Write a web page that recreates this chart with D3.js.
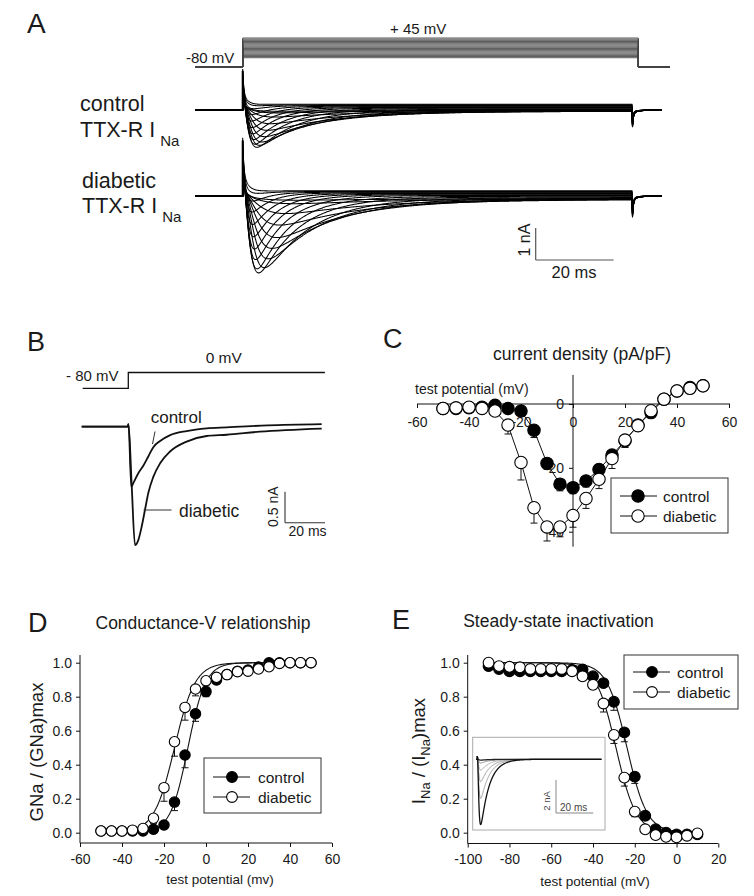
<!DOCTYPE html>
<html><head><meta charset="utf-8">
<script src="https://cdn.jsdelivr.net/npm/d3@7/dist/d3.min.js"></script>
<style>
html,body{margin:0;padding:0;background:#fff;}
svg text{font-family:"Liberation Sans",Arial,Helvetica,sans-serif;fill:#1a1a1a;}
</style></head>
<body><svg id="fig"></svg>
<script>
// ---------------- DATA ----------------
// Panel A: step protocol and current families (peak nA, time to peak ms, decay tau ms, steady offset nA)
const stepVoltages = [-40,-35,-30,-25,-20,-15,-10,-5,0,5,10,15,20,25,30,35,40,45];
const ctrlPeak = [0.03,0.08,0.2,0.4,0.6,0.8,0.98,1.1,1.19,1.12,1.0,0.85,0.68,0.5,0.32,0.15,0.05,0.0];
const ctrlTp   = [10,9,8,7,6.2,5.5,4.8,4.2,3.5,3.0,2.7,2.4,2.2,2.0,1.8,1.6,1.5,1.4];
const ctrlTau  = [26,25,22,20,18,16,14,12,10,8.5,7.5,6.5,5.8,5.2,4.6,4.2,4.0,4.0];
const ctrlSS   = [-0.01,-0.01,-0.02,-0.03,-0.04,-0.04,-0.03,-0.02,0.0,0.02,0.04,0.06,0.08,0.1,0.12,0.14,0.16,0.18];
const diabPeak = [0.05,0.15,0.45,0.8,1.2,1.55,1.9,2.2,2.4,2.3,2.05,1.75,1.4,1.05,0.7,0.38,0.12,0.0];
const diabTp   = [14,13,11,9.5,8.8,7.5,6.5,5.5,4.0,3.6,3.2,2.9,2.6,2.3,2.0,1.8,1.6,1.5];
const diabTau  = [26,25,22,20,18,16,14,12,10,8.5,7.5,6.5,5.8,5.2,4.6,4.2,4.0,4.0];
const diabSS   = [-0.08,-0.09,-0.1,-0.11,-0.1,-0.09,-0.07,-0.05,-0.03,-0.01,0.02,0.04,0.06,0.08,0.1,0.12,0.14,0.16];

// Panel B: single traces at 0 mV (time ms, current nA)
const bTimeCtrl = [-23,0,0.4,1.8,2.8,5.3,7.8,10.3,12.8,16.2,21,29.5,39.5,49.5,70,97];
const bCurCtrl  = [0,0,0.04,-0.97,-0.91,-0.75,-0.63,-0.48,-0.33,-0.23,-0.14,-0.07,-0.026,-0.01,0.02,0.04];
const bTimeDiab = [-23,0,0.4,2.0,3.65,5.3,7,8.65,10.3,12.8,16.2,21.2,29.5,39.5,49.5,66,97];
const bCurDiab  = [0,0,0.04,-0.95,-1.91,-1.83,-1.61,-1.34,-1.07,-0.81,-0.59,-0.40,-0.24,-0.15,-0.13,-0.08,-0.03];

// Panel C: current density (pA/pF)
const ivVoltage = [-50,-45,-40,-35,-30,-25,-20,-15,-10,-5,0,5,10,15,20,25,30,35,40,45,50];
const ivControl = [-1.4,-1.4,-1.2,-1.0,-0.4,-1.4,-2.2,-8.2,-18.6,-25.1,-26.2,-24.1,-20.5,-16.0,-11.5,-6.6,-2.7,1.5,4.1,5.2,5.7];
const ivControlErr = [0.3,0.3,0.3,0.3,0.3,0.4,0.6,2.3,1.8,2.1,1.9,1.9,1.8,1.8,2.0,1.2,0.8,0.5,0.4,0.3,0.3];
const ivDiabetic = [-1.4,-1.2,-1.0,-1.4,-2.2,-6.6,-18.3,-32.5,-38.5,-38.5,-34.9,-29.6,-23.6,-17.1,-11.3,-6.8,-2.1,1.5,4.1,4.9,5.7];
const ivDiabeticErr = [0.3,0.3,0.3,0.4,0.6,2.8,5.5,4.8,4.4,3.1,3.7,3.1,2.9,3.1,2.3,1.5,0.8,0.5,0.4,0.3,0.3];

// Panel D: conductance-voltage
const gvVoltage = [-50,-45,-40,-35,-30,-25,-20,-15,-10,-5,0,5,10,15,20,25,30,35,40,45,50];
const gvControl = [0.01,0.01,0.01,0.01,0.01,0.02,0.045,0.18,0.457,0.70,0.83,0.898,0.93,0.95,0.957,0.975,1.0,1.0,1.0,1.0,1.0];
const gvControlErr = [0.01,0.01,0.01,0.01,0.01,0.02,0.02,0.05,0.075,0.045,0.03,0.02,0.01,0.01,0.01,0.01,0.01,0.01,0.01,0.01,0.01];
const gvDiabetic = [0.01,0.01,0.01,0.015,0.025,0.085,0.265,0.535,0.737,0.845,0.894,0.914,0.93,0.947,0.95,0.963,0.976,0.996,1.0,1.0,1.0];
const gvDiabeticErr = [0.01,0.01,0.01,0.01,0.01,0.03,0.08,0.085,0.075,0.04,0.03,0.02,0.01,0.01,0.01,0.01,0.01,0.01,0.01,0.01,0.01];
const gvFitVHalf = [-8.6,-15.0];   // control, diabetic
const gvFitSlope = [4.2,4.9];

// Panel E: steady-state inactivation
const ssiVoltage = [-90,-85,-80,-75,-70,-65,-60,-55,-50,-45,-40,-35,-30,-25,-20,-15,-10,-5,0,5,10];
const ssiControl = [0.98,0.963,0.95,0.95,0.95,0.95,0.95,0.95,0.957,0.96,0.92,0.88,0.77,0.59,0.33,0.10,0.02,0.0,-0.01,-0.01,-0.01];
const ssiControlErr = [0.01,0.01,0.01,0.01,0.01,0.01,0.01,0.01,0.01,0.01,0.01,0.02,0.05,0.055,0.04,0.02,0.01,0.01,0.01,0.01,0.01];
const ssiDiabetic = [1.0,0.98,0.976,0.973,0.963,0.963,0.963,0.963,0.95,0.92,0.87,0.76,0.575,0.324,0.124,0.02,-0.014,-0.024,-0.027,-0.018,-0.004];
const ssiDiabeticErr = [0.01,0.01,0.01,0.01,0.01,0.01,0.01,0.01,0.01,0.01,0.02,0.05,0.05,0.05,0.03,0.01,0.01,0.01,0.01,0.01,0.01];
const ssiFitVHalf = [-23.7,-29.0];
const ssiFitSlope = [4.8,4.8];
// inset of E: peak currents (nA) of prepulse family
const insetPeak = [0.05,0.23,0.66,1.37,2.4,4.0];
const insetColor = ["#222","#888","#aaa","#999","#999","#111"];

// ---------------- DRAWING ----------------
const svg = d3.select("#fig").attr("width",754).attr("height",896);
svg.append("rect").attr("width",754).attr("height",896).attr("fill","#fff");

function T(x,y,s,size,opt={}){
  const t = svg.append("text").attr("x",x).attr("y",y).attr("font-size",size).text(s);
  if(opt.anchor) t.attr("text-anchor",opt.anchor);
  if(opt.rot) t.attr("transform",`rotate(-90,${x},${y})`);
  if(opt.fill) t.style("fill",opt.fill);
  return t;
}
function L(x1,y1,x2,y2,col="#111",w=1){
  svg.append("line").attr("x1",x1).attr("y1",y1).attr("x2",x2).attr("y2",y2).attr("stroke",col).attr("stroke-width",w);
}
function naShape(tp,tau){
  let tm = tp/3;
  for(let i=0;i<50;i++) tm = tp/Math.log(1+3*tau/tm);
  const f = t => t<=0 ? 0 : Math.pow(1-Math.exp(-t/tm),3)*Math.exp(-t/tau);
  const n = f(tp);
  return t => f(t)/n;
}

// Panel letters
T(27,33,"A",28); T(27,351,"B",27); T(383,348,"C",27); T(28,632,"D",27); T(392,629,"E",27);

// ---------- Panel A ----------
const xA = d3.scaleLinear().domain([0,100]).range([242.7,632.5]);
const vA = d3.scaleLinear().domain([-80,45]).range([67,38]);
const gProto = svg.append("g");
stepVoltages.forEach(v=>{
  const p = d3.path();
  p.moveTo(xA(-12.2),vA(-80)); p.lineTo(xA(0),vA(-80)); p.lineTo(xA(0),vA(v));
  p.lineTo(xA(101.5),vA(v)); p.lineTo(xA(101.5),vA(-80)); p.lineTo(xA(109.6),vA(-80));
  gProto.append("path").attr("d",p.toString()).attr("fill","none").attr("stroke","#444").attr("stroke-width",0.9);
});
T(390,34,"+ 45 mV",15);
T(186,63,"-80 mV",15);

const gA = svg.append("g");
function drawFamily(baseY,peaks,tps,taus,ss,capK,tailK){
  const yI = d3.scaleLinear().domain([0,1]).range([baseY,baseY-32]);
  const line = d3.line().x(d=>xA(d[0])).y(d=>yI(d[1]));
  stepVoltages.forEach((v,i)=>{
    const sh = naShape(tps[i],taus[i]);
    const rel = (v+80)/125;
    const cur = t => -peaks[i]*sh(t) + ss[i]*(1-Math.exp(-t/2)) + capK*rel*(0.75*Math.exp(-t/0.25)+0.6*Math.exp(-t/1.3));
    const pts = [[-12.2,0],[0,0]];
    for(let t=0;t<=100.0001;t+=(t<6?0.05:0.2)) pts.push([t,cur(t)]);
    const end = cur(100);
    for(let s=0;s<=7.5001;s+=(s<2?0.05:0.25)) pts.push([100+s, end*Math.exp(-s/0.4) - tailK*rel*(0.6*Math.exp(-s/0.25)+0.12*Math.exp(-s/1.5))]);
    gA.append("path").attr("d",line(pts)).attr("fill","none").attr("stroke","#000").attr("stroke-width",1.05);
  });
  gA.append("line").attr("x1",xA(0)).attr("x2",xA(0)).attr("y1",baseY).attr("y2",yI(capK*1.35*0.95))
    .attr("stroke","#000").attr("stroke-width",2);
}
drawFamily(110,ctrlPeak,ctrlTp,ctrlTau,ctrlSS,0.95,1.0);
drawFamily(196,diabPeak,diabTp,diabTau,diabSS,1.35,1.15);

T(80,111,"control",21.5);
T(80,137,"TTX-R I",21.5).append("tspan").attr("dx",5).attr("dy",8.5).attr("font-size",15).text("Na");
T(82,188,"diabetic",21.5);
T(82,213,"TTX-R I",21.5).append("tspan").attr("dx",5).attr("dy",8.5).attr("font-size",15).text("Na");
// scale bar A (1 nA = 32 px, 20 ms)
L(535.7,228,535.7,260,"#555",1.2); L(535.7,260,535.7+(xA(20)-xA(0)),260,"#555",1.2);
T(530,240,"1 nA",16,{anchor:"middle",rot:true});
T(574,278,"20 ms",16.5,{anchor:"middle"});

// ---------- Panel B ----------
const xB = d3.scaleLinear().domain([0,20]).range([127.7,167.7]);
const vB = d3.scaleLinear().domain([-80,0]).range([388.3,372.5]);
const yB = d3.scaleLinear().domain([0,-1]).range([426.7,488.7]);
const pB = d3.path();
pB.moveTo(xB(-22.5),vB(-80)); pB.lineTo(xB(0.3),vB(-80)); pB.lineTo(xB(0.3),vB(0)); pB.lineTo(xB(98.6),vB(0));
svg.append("path").attr("d",pB.toString()).attr("fill","none").attr("stroke","#111").attr("stroke-width",1.3);
T(66,380.7,"- 80 mV",15);
T(205.7,362.7,"0 mV",15.5);
const lineB = d3.line().curve(d3.curveMonotoneX).x(d=>xB(d[0])).y(d=>yB(d[1]));
svg.append("path").attr("d",lineB(bTimeDiab.map((t,i)=>[t,bCurDiab[i]]))).attr("fill","none").attr("stroke","#111").attr("stroke-width",1.8);
svg.append("path").attr("d",lineB(bTimeCtrl.map((t,i)=>[t,bCurCtrl[i]]))).attr("fill","none").attr("stroke","#111").attr("stroke-width",1.8);
T(150.7,423.3,"control",17);
L(155,431.5,152.5,444,"#333",1);
T(179,516.7,"diabetic",17.5);
L(143.5,510,171.5,510,"#333",1);
L(285,491.7,285,522.7,"#333",1.1); L(285,522.7,325,522.7,"#333",1.1);
T(278,506.7,"0.5 nA",14,{anchor:"middle",rot:true});
T(307.5,536,"20 ms",14,{anchor:"middle"});

// ---------- helpers for scatter panels ----------
function styleAxis(g,size){
  g.attr("font-size",size).attr("font-family",null);
  g.select(".domain").remove();
  g.selectAll("line").attr("stroke","#111");
  g.selectAll("text").style("fill","#1a1a1a");
}
function series(g,xs,ys,errs,x,y,filled,r,connect){
  if(connect){
    g.append("path").attr("d",d3.line().x((d,i)=>x(xs[i])).y((d,i)=>y(ys[i]))(ys))
      .attr("fill","none").attr("stroke","#111").attr("stroke-width",1);
  }
  xs.forEach((v,i)=>{
    const cx=x(v), y0=y(ys[i]), y1=y(ys[i]-errs[i]);
    g.append("line").attr("x1",cx).attr("x2",cx).attr("y1",y0).attr("y2",y1).attr("stroke","#111").attr("stroke-width",1);
    g.append("line").attr("x1",cx-3.5).attr("x2",cx+3.5).attr("y1",y1).attr("y2",y1).attr("stroke","#111").attr("stroke-width",1);
  });
}
function markers(g,xs,ys,x,y,filled,r){
  xs.forEach((v,i)=>{
    g.append("circle").attr("cx",x(v)).attr("cy",y(ys[i])).attr("r",r)
      .attr("fill",filled?"#000":"#fff").attr("stroke","#000").attr("stroke-width",1.1);
  });
}
function legend(x0,y0,w,h,rowYs,lx1,lx2,mx,tx,r){
  svg.append("rect").attr("x",x0).attr("y",y0).attr("width",w).attr("height",h)
    .attr("fill","#fff").attr("stroke","#333").attr("stroke-width",1);
  [["control",true],["diabetic",false]].forEach((d,i)=>{
    L(lx1,rowYs[i],lx2,rowYs[i],"#111",1);
    svg.append("circle").attr("cx",mx).attr("cy",rowYs[i]).attr("r",r)
      .attr("fill",d[1]?"#000":"#fff").attr("stroke","#000").attr("stroke-width",1.1);
    T(tx,rowYs[i]+5.5,d[0],15.5);
  });
}

// ---------- Panel C ----------
const xC = d3.scaleLinear().domain([-60,60]).range([417,729]);
const yC = d3.scaleLinear().domain([-40,0]).range([531.7,404]);
T(582,360,"current density (pA/pF)",17.5,{anchor:"middle"});
T(415,394,"test potential (mV)",14);
L(xC(-60),yC(0),730,yC(0));
L(xC(0),yC(9.1),xC(0),yC(-44.7));
const axCx = svg.append("g").attr("transform",`translate(0,${yC(0)})`)
  .call(d3.axisBottom(xC).tickValues([-60,-40,-20,0,20,40,60]).tickSize(4).tickPadding(9).tickFormat(d=>String(d)));
styleAxis(axCx,14);
const axCy = svg.append("g").attr("transform",`translate(${xC(0)},0)`)
  .call(d3.axisLeft(yC).tickValues([0,-20,-40]).tickSize(4).tickPadding(5).tickFormat(d=>String(d)));
styleAxis(axCy,14);
const gC = svg.append("g");
series(gC,ivVoltage,ivControl,ivControlErr,xC,yC,true,6.2,true);
series(gC,ivVoltage,ivDiabetic,ivDiabeticErr,xC,yC,false,6.2,true);
markers(gC,ivVoltage,ivControl,xC,yC,true,6.2);
markers(gC,ivVoltage,ivDiabetic,xC,yC,false,6.2);
legend(611,478,117,55,[496,516],620,657,638,663,6.2);

// ---------- Panel D ----------
const xD = d3.scaleLinear().domain([-60,60]).range([80,332]);
const yD = d3.scaleLinear().domain([0,1]).range([832.7,662.7]);
T(203,629,"Conductance-V relationship",17.5,{anchor:"middle"});
L(80,843,332,843); L(80,655,80,843);
const axDx = svg.append("g").attr("transform","translate(0,843)")
  .call(d3.axisBottom(xD).tickValues([-60,-40,-20,0,20,40,60]).tickSize(4).tickPadding(7).tickFormat(d=>String(d)));
styleAxis(axDx,14);
const axDy = svg.append("g").attr("transform","translate(80,0)")
  .call(d3.axisLeft(yD).tickValues([0,0.2,0.4,0.6,0.8,1.0]).tickSize(4).tickPadding(4).tickFormat(d3.format(".1f")));
styleAxis(axDy,14);
T(43,752,"GNa / (GNa)max",18.5,{anchor:"middle",rot:true});
T(220,884,"test potential (mv)",13.5,{anchor:"middle"});
const gD = svg.append("g");
const fitV = d3.range(-50,50.01,0.5);
[0,1].forEach(k=>{
  gD.append("path").attr("d",d3.line().x(v=>xD(v)).y(v=>yD(1/(1+Math.exp((gvFitVHalf[k]-v)/gvFitSlope[k]))))(fitV))
    .attr("fill","none").attr("stroke","#111").attr("stroke-width",1.1);
});
series(gD,gvVoltage,gvControl,gvControlErr,xD,yD,true,5.2,false);
series(gD,gvVoltage,gvDiabetic,gvDiabeticErr,xD,yD,false,5.2,false);
markers(gD,gvVoltage,gvControl,xD,yD,true,5.2);
markers(gD,gvVoltage,gvDiabetic,xD,yD,false,5.2);
legend(204,758,117,55,[777,797],213,250,232,258,5.4);

// ---------- Panel E ----------
const xE = d3.scaleLinear().domain([-100,20]).range([467.7,718.3]);
const yE = d3.scaleLinear().domain([0,1]).range([832.7,662.7]);
T(558.5,627,"Steady-state inactivation",17.5,{anchor:"middle"});
L(467.7,843.5,718.3,843.5); L(467.7,655,467.7,843.5);
const axEx = svg.append("g").attr("transform","translate(0,843.5)")
  .call(d3.axisBottom(xE).tickValues([-100,-80,-60,-40,-20,0,20]).tickSize(4).tickPadding(7).tickFormat(d=>String(d)));
styleAxis(axEx,14);
const axEy = svg.append("g").attr("transform","translate(467.7,0)")
  .call(d3.axisLeft(yE).tickValues([0,0.2,0.4,0.6,0.8,1.0]).tickSize(4).tickPadding(4).tickFormat(d3.format(".1f")));
styleAxis(axEy,14);
const yl = T(425,751,"I",18.5,{anchor:"middle",rot:true});
yl.append("tspan").attr("font-size",13).attr("dy",5).text("Na");
yl.append("tspan").attr("dy",-5).text(" / (I");
yl.append("tspan").attr("font-size",13).attr("dy",5).text("Na");
yl.append("tspan").attr("dy",-5).text(")max");
T(595,886,"test potential (mV)",13.5,{anchor:"middle"});

// inset
svg.append("rect").attr("x",472.7).attr("y",737.3).attr("width",132.3).attr("height",92.7)
  .attr("fill","#fff").attr("stroke","#aaa").attr("stroke-width",1);
const xI = d3.scaleLinear().domain([0,20]).range([477.3,514.6]);
const yI = d3.scaleLinear().domain([0,-2]).range([759.3,791.9]);
const lineI = d3.line().x(d=>xI(d[0])).y(d=>yI(d[1]));
const order = [1,2,3,4,0,5];
order.forEach(i=>{
  const sh = naShape(1.8,4.5);
  const pts = [[-0.7,0],[0,0]];
  for(let t=0;t<=66.6;t+=(t<8?0.05:0.3)) pts.push([t,-insetPeak[i]*sh(t)+0.2*Math.exp(-t/0.3)]);
  svg.append("path").attr("d",lineI(pts)).attr("fill","none").attr("stroke",insetColor[i]).attr("stroke-width",i===5||i===0?1.3:1);
});
L(556,780,556,813,"#888",1); L(556,813,556+(xI(20)-xI(0)),813,"#888",1);
T(550,801,"2 nA",9.5,{anchor:"middle",rot:true,fill:"#444"});
T(560,811,"20 ms",10,{fill:"#444"});

const gE = svg.append("g");
const fitE = d3.range(-90,10.01,0.5);
[0,1].forEach(k=>{
  gE.append("path").attr("d",d3.line().x(v=>xE(v)).y(v=>yE(1/(1+Math.exp((v-ssiFitVHalf[k])/ssiFitSlope[k]))))(fitE))
    .attr("fill","none").attr("stroke","#111").attr("stroke-width",1.1);
});
series(gE,ssiVoltage,ssiControl,ssiControlErr,xE,yE,true,5.4,false);
series(gE,ssiVoltage,ssiDiabetic,ssiDiabeticErr,xE,yE,false,5.4,false);
markers(gE,ssiVoltage,ssiControl,xE,yE,true,5.4);
markers(gE,ssiVoltage,ssiDiabetic,xE,yE,false,5.4);
legend(624,655,114,54,[672,692],633,670,652,677,5.4);
</script></body></html>
